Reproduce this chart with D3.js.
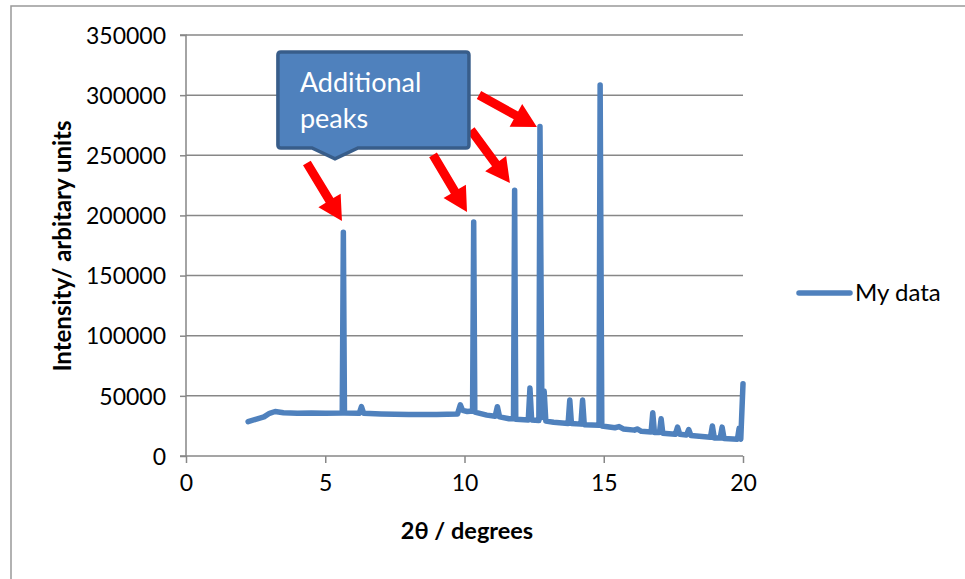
<!DOCTYPE html>
<html><head><meta charset="utf-8">
<script src="https://cdn.jsdelivr.net/npm/d3@7"></script>
<style>body{margin:0;background:#fff}svg{display:block}text{font-family:Lato,"Open Sans",sans-serif}</style>
</head><body>
<svg id="c" width="965" height="579"></svg>
<script>
// 2θ (degrees)
const twoTheta = [2.23,2.5,2.8,3.0,3.2,3.5,4.0,4.5,5.0,5.61,5.65,5.69,6.22,6.3,6.38,7.0,8.0,9.0,9.75,9.85,9.93,10.1,10.29,10.33,10.37,10.8,11.1,11.18,11.26,11.6,11.76,11.8,11.84,12.29,12.35,12.41,12.67,12.71,12.78,12.86,12.92,13.2,13.72,13.78,13.84,14.18,14.24,14.3,14.83,14.87,14.93,15.4,15.55,15.7,16.1,16.2,16.35,16.7,16.76,16.82,17.0,17.06,17.12,17.57,17.65,17.73,17.97,18.05,18.13,18.83,18.9,18.97,19.18,19.25,19.32,19.8,19.86,19.92,20.0];
// Intensity (arbitrary units)
const intensity = [28500,30500,32500,35500,37000,36000,35500,35800,35500,35800,186000,35800,35500,41000,35500,35000,34500,34500,35000,42500,38000,37000,37500,194500,36500,34000,33000,41000,32500,31000,31000,221000,30500,30000,56500,30000,29500,274000,32000,54000,29000,28000,27000,46500,27000,26500,46500,26000,25500,308500,25000,23500,24500,22500,21500,22500,20500,20000,36000,19500,19500,31000,19000,18000,24000,18000,17500,22000,17000,15500,25000,15000,15000,24000,14500,14000,23000,14000,60000];
const xTicks = [0,5,10,15,20];
const yTicks = [0,50000,100000,150000,200000,250000,300000,350000];
const seriesName = "My data";
// annotation arrows: [x0,y0,x1,y1] in data units (tail -> tip)
const arrows = [[4.34,243600,5.60,195400],[8.87,250300,10.09,202900],[10.23,271000,11.63,227000],[10.52,300100,12.60,273500]];
const calloutLines = ["Additional","peaks"];

const svg = d3.select("#c");
const L=186,R=743,T=35,B=456;
const x = d3.scaleLinear().domain([0,20]).range([L,R]);
const y = d3.scaleLinear().domain([0,350000]).range([B,T]);
const grid="#878787";

// outer frame
svg.append("path").attr("d","M11,580V6H966").attr("fill","none").attr("stroke","#999").attr("stroke-width",1.5);

// gridlines
svg.append("g").selectAll("line").data(yTicks.filter(d=>d>0)).join("line")
  .attr("x1",L).attr("x2",R).attr("y1",d=>y(d)).attr("y2",d=>y(d))
  .attr("stroke",grid).attr("stroke-width",1.5);

// y axis
const ya = svg.append("g").attr("transform",`translate(${L},0)`)
  .call(d3.axisLeft(y).tickValues(yTicks).tickSize(6).tickPadding(14).tickFormat(d3.format("d")));
ya.select(".domain").attr("stroke",grid).attr("stroke-width",1.5).attr("d",`M-6,${B}H0V${T}H-6`);
ya.selectAll(".tick line").attr("stroke",grid).attr("stroke-width",1.5);
ya.selectAll(".tick text").attr("font-size",23).attr("fill","#000").attr("font-family","Lato").attr("dy","0.36em");

// x axis
const xa = svg.append("g").attr("transform",`translate(0,${B})`)
  .call(d3.axisBottom(x).tickValues(xTicks).tickSize(7).tickPadding(12).tickFormat(d3.format("d")));
xa.select(".domain").attr("stroke",grid).attr("stroke-width",1.5).attr("d",`M${L},0H${R}`);
xa.selectAll(".tick line").attr("stroke",grid).attr("stroke-width",1.5);
xa.selectAll(".tick text").attr("font-size",23).attr("fill","#000").attr("font-family","Lato");

// titles
svg.append("text").attr("x",467).attr("y",539).attr("text-anchor","middle")
  .attr("font-size",23.5).attr("font-weight","bold").text("2θ / degrees");
svg.append("text").attr("transform","translate(71,246) rotate(-90)").attr("text-anchor","middle")
  .attr("font-size",24).attr("font-weight","bold").text("Intensity/ arbitary units");

// data line
const pts = twoTheta.map((t,i)=>[t,intensity[i]]);
svg.append("path").datum(pts)
  .attr("d",d3.line().x(d=>x(d[0])).y(d=>y(d[1])))
  .attr("fill","none").attr("stroke","#4F81BD").attr("stroke-width",5.5)
  .attr("stroke-linejoin","round").attr("stroke-linecap","round");

// legend
svg.append("line").attr("x1",799).attr("x2",850).attr("y1",293).attr("y2",293)
  .attr("stroke","#4F81BD").attr("stroke-width",5.5).attr("stroke-linecap","round");
svg.append("text").attr("x",855).attr("y",301).attr("font-size",24).attr("fill","#000").text(seriesName);

// arrows
function arrowPath(x0,y0,x1,y1){
  const dx=x1-x0, dy=y1-y0, len=Math.hypot(dx,dy), ux=dx/len, uy=dy/len, nx=-uy, ny=ux;
  const sw=4.5, hw=13, hl=24;
  const bx=x1-ux*hl, by=y1-uy*hl;
  const p=[[x0+nx*sw,y0+ny*sw],[bx+nx*sw,by+ny*sw],[bx+nx*hw,by+ny*hw],[x1,y1],[bx-nx*hw,by-ny*hw],[bx-nx*sw,by-ny*sw],[x0-nx*sw,y0-ny*sw]];
  return "M"+p.map(q=>q.join(",")).join("L")+"Z";
}
svg.append("g").selectAll("path").data(arrows).join("path")
  .attr("d",a=>arrowPath(x(a[0]),y(a[1]),x(a[2]),y(a[3])))
  .attr("fill","#FF0000");

// callout
const bx0=x(3.30), bx1=x(10.16), by0=y(335900), by1=y(256100);
const tipX=x(5.35), tipY=y(247000), r=3;
const cp = `M${bx0+r},${by0}H${bx1-r}Q${bx1},${by0} ${bx1},${by0+r}V${by1-r}Q${bx1},${by1} ${bx1-r},${by1}H${tipX+23}L${tipX},${tipY}L${tipX-23},${by1}H${bx0+r}Q${bx0},${by1} ${bx0},${by1-r}V${by0+r}Q${bx0},${by0} ${bx0+r},${by0}Z`;
svg.append("path").attr("d",cp).attr("fill","#4F81BD").attr("stroke","#385D8A").attr("stroke-width",3.5);
svg.append("g").selectAll("text").data(calloutLines).join("text")
  .attr("x",bx0+22).attr("y",(d,i)=>92+i*36).attr("font-size",27).attr("fill","#fff").text(d=>d);
</script>
</body></html>
